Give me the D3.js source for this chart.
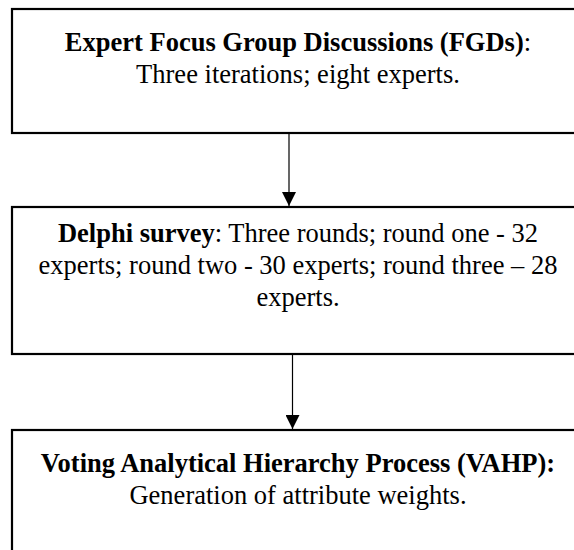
<!DOCTYPE html>
<html lang="en">
<head>
    <meta charset="UTF-8">
    <title>Study process flow</title>
    <script src="https://d3js.org/d3.v7.min.js"></script>
    <style>
        html, body { margin: 0; padding: 0; background: #fff; }
        svg { display: block; }
        .box { fill: #fff; stroke: #000; stroke-width: 2.2px; }
        .link { stroke: #000; stroke-width: 1.2px; }
        text { font-family: "Liberation Serif", "Times New Roman", serif; font-size: 26.5px; fill: #000; }
        .b { font-weight: bold; }
    </style>
</head>
<body>
    <svg id="canvas"></svg>

    <script>
        // stage titles (bold) and the rest of each line (regular)
        const stages = ["FGD", "Delphi", "VAHP"];
        const boldParts = [
            ["Expert Focus Group Discussions (FGDs)", ""],
            ["Delphi survey", "", ""],
            ["Voting Analytical Hierarchy Process (VAHP):", ""]
        ];
        const plainParts = [
            [":", "Three iterations; eight experts."],
            [": Three rounds; round one - 32", "experts; round two - 30 experts; round three \u2013 28", "experts."],
            ["", "Generation of attribute weights."]
        ];

        const width = 574, height = 550;
        const svg = d3.select("#canvas").attr("width", width).attr("height", height);

        // layout: box tops/bottoms, first baseline, arrow x
        const boxLeft = 12, boxRight = 586, textCx = 298, lineGap = 32;
        const boxTop = d3.scaleOrdinal().domain(stages).range([9, 207, 430]);
        const boxBottom = d3.scaleOrdinal().domain(stages).range([133, 354, 600]);
        const firstBase = d3.scaleOrdinal().domain(stages).range([51, 242, 472]);
        const arrowX = [289, 292.5];

        const defs = svg.append("defs");
        defs.append("marker")
            .attr("id", "arrow")
            .attr("viewBox", "0 0 14 14")
            .attr("refX", 14).attr("refY", 7)
            .attr("markerWidth", 14).attr("markerHeight", 14)
            .attr("markerUnits", "userSpaceOnUse")
            .attr("orient", "auto")
            .append("path")
            .attr("d", "M0,0 L14,7 L0,14 Z")
            .attr("fill", "#000");

        // connectors between consecutive boxes
        d3.pairs(stages).forEach(([a, b], i) => {
            svg.append("line")
                .attr("class", "link")
                .attr("x1", arrowX[i]).attr("x2", arrowX[i])
                .attr("y1", boxBottom(a) + 1)
                .attr("y2", boxTop(b) - 1)
                .attr("marker-end", "url(#arrow)");
        });

        const g = svg.selectAll("g.stage")
            .data(stages)
            .enter().append("g")
            .attr("class", "stage");

        g.append("rect")
            .attr("class", "box")
            .attr("x", boxLeft)
            .attr("y", d => boxTop(d))
            .attr("width", boxRight - boxLeft)
            .attr("height", d => boxBottom(d) - boxTop(d));

        g.each(function(d, i) {
            const el = d3.select(this);
            boldParts[i].forEach((bt, j) => {
                const t = el.append("text")
                    .attr("x", textCx)
                    .attr("y", firstBase(d) + j * lineGap)
                    .attr("text-anchor", "middle");
                if (bt) t.append("tspan").attr("class", "b").text(bt);
                if (plainParts[i][j]) t.append("tspan").text(plainParts[i][j]);
            });
        });
    </script>
</body>
</html>
